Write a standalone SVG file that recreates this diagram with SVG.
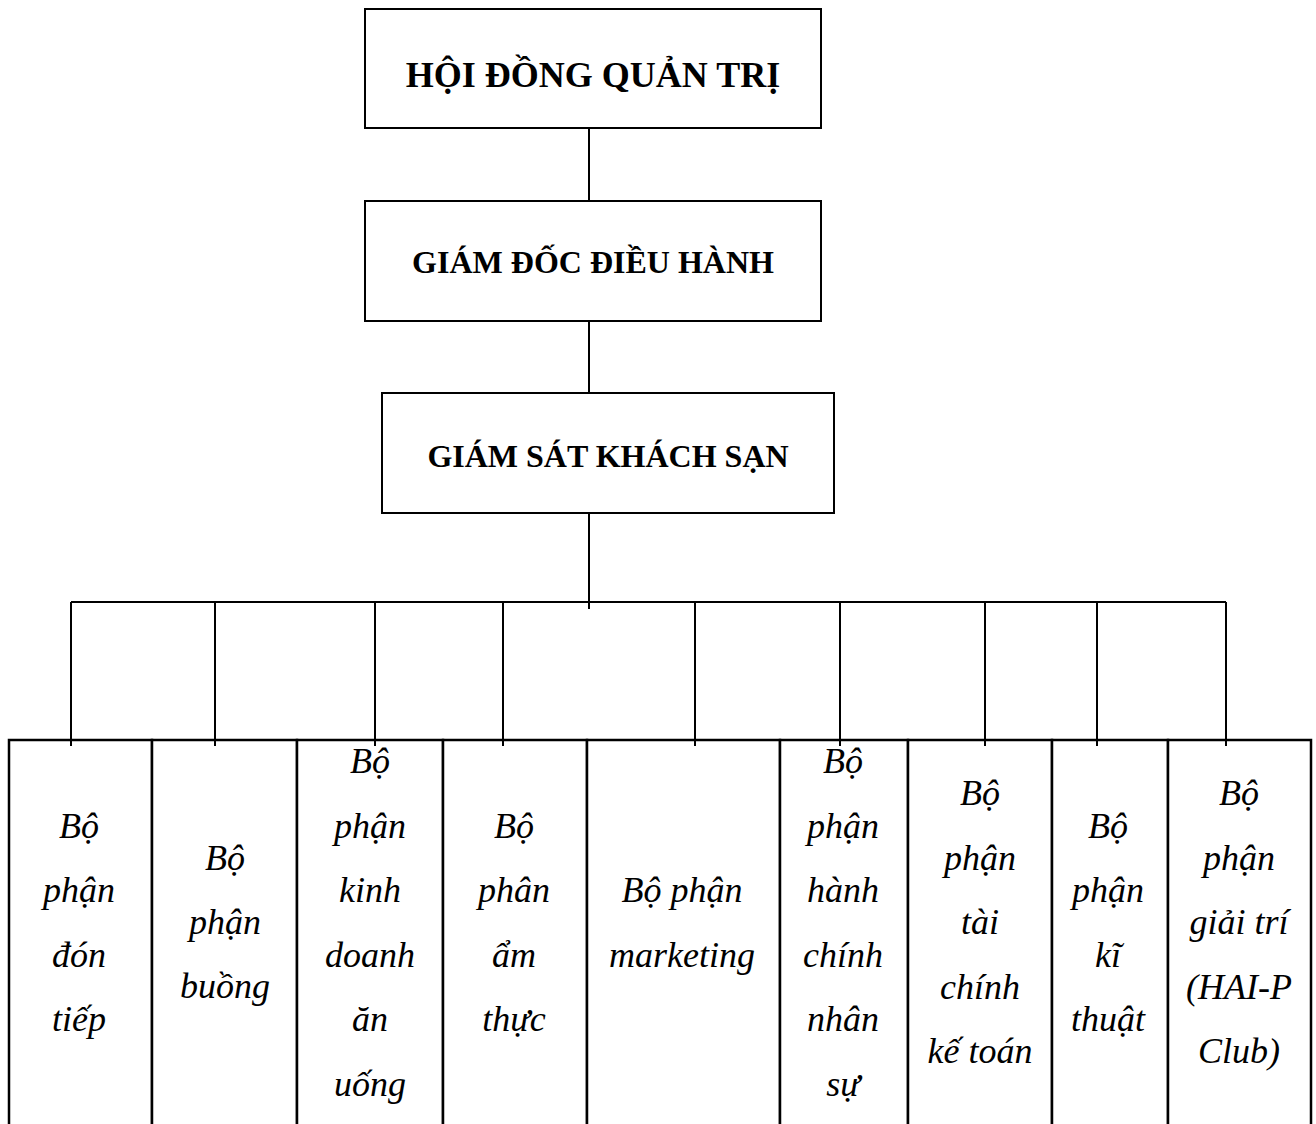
<svg xmlns="http://www.w3.org/2000/svg" width="1316" height="1124" viewBox="0 0 1316 1124">
<style>
.top{fill:#fff;stroke:#000;stroke-width:2}
.dept{fill:#fff;stroke:#000;stroke-width:2.5}
.conn{stroke:#000;stroke-width:2;fill:none}
.tb{font-family:"Liberation Serif","Times New Roman",serif;font-weight:bold;text-anchor:middle;fill:#000}
.ti{font-family:"Liberation Serif","Times New Roman",serif;font-style:italic;font-size:36px;text-anchor:middle;fill:#000}
</style>
<rect width="1316" height="1124" fill="#fff"/>
<g id="hdqt"><rect class="top" x="365" y="9" width="456" height="119"/><text class="tb" x="593" y="87" font-size="36">HỘI ĐỒNG QUẢN TRỊ</text></g>
<g id="gddh"><rect class="top" x="365" y="201" width="456" height="120"/><text class="tb" x="593" y="273" font-size="32">GIÁM ĐỐC ĐIỀU HÀNH</text></g>
<g id="gsks"><rect class="top" x="382" y="393" width="452" height="120"/><text class="tb" x="608" y="467" font-size="32">GIÁM SÁT KHÁCH SẠN</text></g>
<g id="d1"><rect class="dept" x="9" y="740" width="143" height="400"/><text class="ti" x="79"><tspan x="79" y="838">Bộ</tspan><tspan x="79" y="902">phận</tspan><tspan x="79" y="967">đón</tspan><tspan x="79" y="1031">tiếp</tspan></text></g>
<g id="d2"><rect class="dept" x="152" y="740" width="145" height="400"/><text class="ti" x="225"><tspan x="225" y="870">Bộ</tspan><tspan x="225" y="934">phận</tspan><tspan x="225" y="998">buồng</tspan></text></g>
<g id="d3"><rect class="dept" x="297" y="740" width="146" height="400"/><text class="ti" x="370"><tspan x="370" y="773">Bộ</tspan><tspan x="370" y="838">phận</tspan><tspan x="370" y="902">kinh</tspan><tspan x="370" y="967">doanh</tspan><tspan x="370" y="1031">ăn</tspan><tspan x="370" y="1096">uống</tspan></text></g>
<g id="d4"><rect class="dept" x="443" y="740" width="144" height="400"/><text class="ti" x="514"><tspan x="514" y="838">Bộ</tspan><tspan x="514" y="902">phân</tspan><tspan x="514" y="967">ẩm</tspan><tspan x="514" y="1031">thực</tspan></text></g>
<g id="d5"><rect class="dept" x="587" y="740" width="193" height="400"/><text class="ti" x="682"><tspan x="682" y="902">Bộ phận</tspan><tspan x="682" y="967">marketing</tspan></text></g>
<g id="d6"><rect class="dept" x="780" y="740" width="128" height="400"/><text class="ti" x="843"><tspan x="843" y="773">Bộ</tspan><tspan x="843" y="838">phận</tspan><tspan x="843" y="902">hành</tspan><tspan x="843" y="967">chính</tspan><tspan x="843" y="1031">nhân</tspan><tspan x="843" y="1096">sự</tspan></text></g>
<g id="d7"><rect class="dept" x="908" y="740" width="144" height="400"/><text class="ti" x="980"><tspan x="980" y="805">Bộ</tspan><tspan x="980" y="870">phận</tspan><tspan x="980" y="934">tài</tspan><tspan x="980" y="999">chính</tspan><tspan x="980" y="1063">kế toán</tspan></text></g>
<g id="d8"><rect class="dept" x="1052" y="740" width="116" height="400"/><text class="ti" x="1108"><tspan x="1108" y="838">Bộ</tspan><tspan x="1108" y="902">phận</tspan><tspan x="1108" y="967">kĩ</tspan><tspan x="1108" y="1031">thuật</tspan></text></g>
<g id="d9"><rect class="dept" x="1168" y="740" width="143" height="400"/><text class="ti" x="1239"><tspan x="1239" y="805">Bộ</tspan><tspan x="1239" y="870">phận</tspan><tspan x="1239" y="934">giải trí</tspan><tspan x="1239" y="999">(HAI-P</tspan><tspan x="1239" y="1063">Club)</tspan></text></g>
<g id="connectors" class="conn">
<line x1="589" y1="128" x2="589" y2="201"/>
<line x1="589" y1="321" x2="589" y2="393"/>
<line x1="589" y1="513" x2="589" y2="609"/>
<line x1="71" y1="602" x2="1226" y2="602"/>
<line x1="71" y1="602" x2="71" y2="746"/>
<line x1="215" y1="602" x2="215" y2="746"/>
<line x1="375" y1="602" x2="375" y2="746"/>
<line x1="503" y1="602" x2="503" y2="746"/>
<line x1="695" y1="602" x2="695" y2="746"/>
<line x1="840" y1="602" x2="840" y2="746"/>
<line x1="985" y1="602" x2="985" y2="746"/>
<line x1="1097" y1="602" x2="1097" y2="746"/>
<line x1="1226" y1="602" x2="1226" y2="746"/>
</g>
</svg>
